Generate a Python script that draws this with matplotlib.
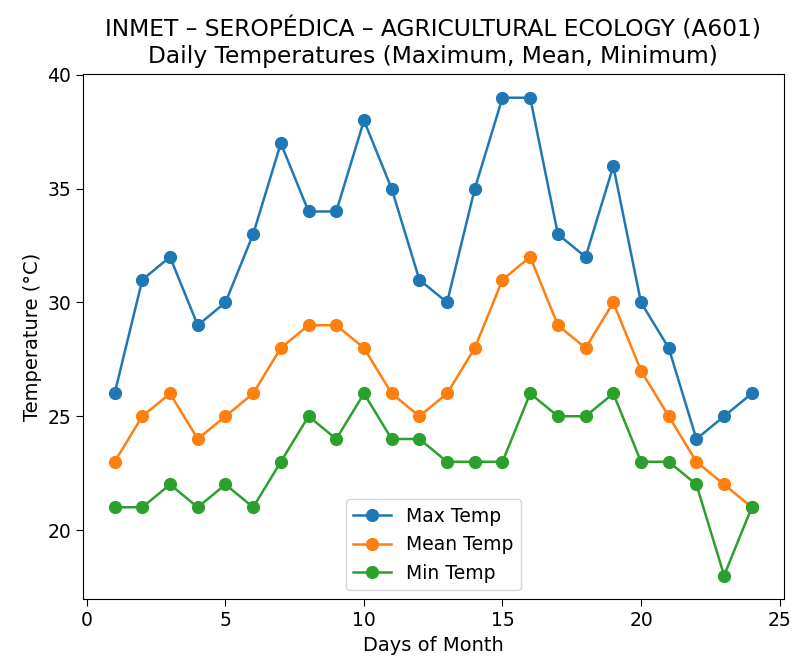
import matplotlib
matplotlib.use("Agg")
import matplotlib.pyplot as plt

days = list(range(1, 25))
max_temp = [26, 31, 32, 29, 30, 33, 37, 34, 34, 38, 35, 31, 30, 35, 39, 39, 33, 32, 36, 30, 28, 24, 25, 26]
mean_temp = [23, 25, 26, 24, 25, 26, 28, 29, 29, 28, 26, 25, 26, 28, 31, 32, 29, 28, 30, 27, 25, 23, 22, 21]
min_temp = [21, 21, 22, 21, 22, 21, 23, 25, 24, 26, 24, 24, 23, 23, 23, 26, 25, 25, 26, 23, 23, 22, 18, 21]

fig = plt.figure(figsize=(7.92, 6.64), dpi=100)
ax = fig.add_axes([0.1045, 0.0973, 0.885, 0.7915])
ax.plot(days, max_temp, marker='o', markersize=8.5, linewidth=1.8, label='Max Temp')
ax.plot(days, mean_temp, marker='o', markersize=8.5, linewidth=1.8, label='Mean Temp')
ax.plot(days, min_temp, marker='o', markersize=8.5, linewidth=1.8, label='Min Temp')
ax.set_title('INMET – SEROPÉDICA – AGRICULTURAL ECOLOGY (A601)\nDaily Temperatures (Maximum, Mean, Minimum)', fontsize=16.8, pad=8)
ax.set_xlabel('Days of Month', fontsize=14)
ax.set_ylabel('Temperature (°C)', fontsize=14)
ax.tick_params(labelsize=13.5, length=5)
ax.legend(loc='lower center', fontsize=13.5)
fig.savefig('out.png', dpi=100)
